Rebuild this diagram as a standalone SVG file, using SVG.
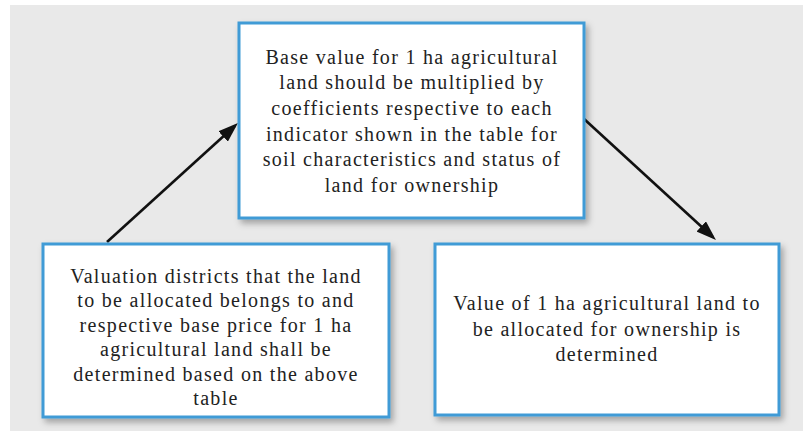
<svg xmlns="http://www.w3.org/2000/svg" width="803" height="431" viewBox="0 0 803 431">
  <style>
    .box { fill: #ffffff; stroke: #3f9bd6; stroke-width: 3; filter: url(#shadow); }
    .conn { stroke: #111111; stroke-width: 2.6; fill: none; marker-end: url(#arrow); }
    text { font-family: "Liberation Serif", "DejaVu Serif", serif; font-size: 20px; fill: #222222; text-anchor: middle; letter-spacing: 1.3px; }
  </style>
  <defs>
    <filter id="shadow" x="-10%" y="-10%" width="125%" height="130%">
      <feDropShadow dx="3" dy="4" stdDeviation="3" flood-color="#000000" flood-opacity="0.3"/>
    </filter>
    <marker id="arrow" viewBox="0 0 20 14" refX="16" refY="7" markerWidth="20" markerHeight="14" markerUnits="userSpaceOnUse" orient="auto">
      <path d="M0,0 L20,7 L0,14 Z" fill="#111111"/>
    </marker>
  </defs>
  <rect x="0" y="0" width="803" height="431" fill="#ffffff"/>
  <rect x="10" y="5" width="793" height="426" fill="#e9e9e9"/>

  <g id="connectors">
    <path class="conn" d="M107,242 L235,125.7"/>
    <path class="conn" d="M583,118 L713,237.3"/>
  </g>

  <g id="node-top">
    <rect class="box" x="239" y="23" width="345" height="195"/>
    <text x="412" y="63.5">Base value for 1 ha agricultural</text>
    <text x="412" y="89.2">land should be multiplied by</text>
    <text x="412" y="114.9">coefficients respective to each</text>
    <text x="412" y="140.6">indicator shown in the table for</text>
    <text x="412" y="166.3">soil characteristics and status of</text>
    <text x="412" y="192">land for ownership</text>
  </g>

  <g id="node-left">
    <rect class="box" x="43" y="244" width="346" height="173"/>
    <text x="216" y="283">Valuation districts that the land</text>
    <text x="216" y="307.4">to be allocated belongs to and</text>
    <text x="216" y="331.8">respective base price for 1 ha</text>
    <text x="216" y="356.2">agricultural land shall be</text>
    <text x="216" y="380.6">determined based on the above</text>
    <text x="216" y="405">table</text>
  </g>

  <g id="node-right">
    <rect class="box" x="435" y="244" width="344" height="171"/>
    <text x="607" y="310">Value of 1 ha agricultural land to</text>
    <text x="607" y="335.5">be allocated for ownership is</text>
    <text x="607" y="361">determined</text>
  </g>
</svg>
